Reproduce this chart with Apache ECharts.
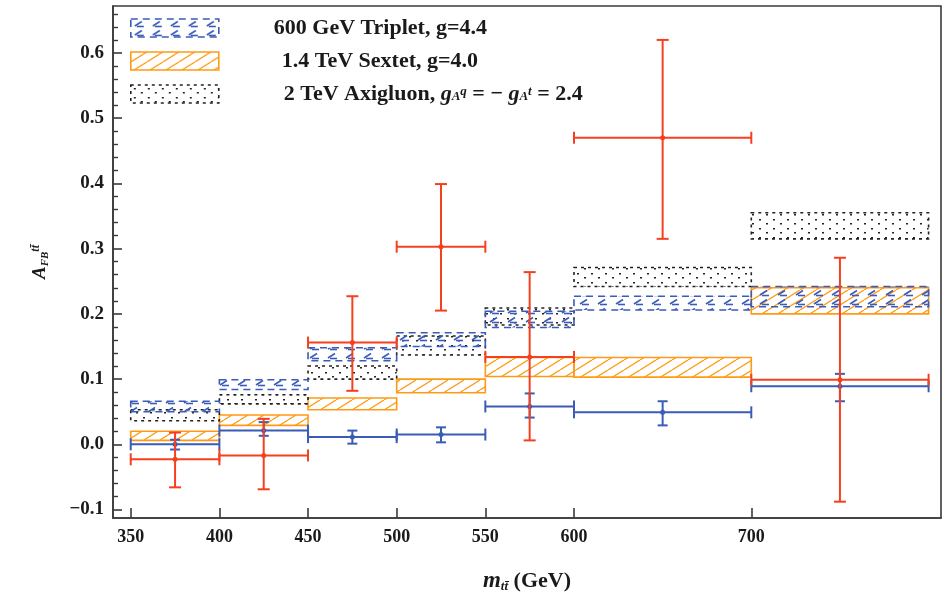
<!DOCTYPE html>
<html><head><meta charset="utf-8">
<script src="https://cdn.jsdelivr.net/npm/echarts@6/dist/echarts.min.js"></script>
<style>html,body{margin:0;padding:0;background:#fff}#c{width:943px;height:600px}</style>
</head><body><div id="c"></div>
<script>
// ---- data ----
const binEdges = [350, 400, 450, 500, 550, 600, 700, 800];
const tripletLo = [0.050, 0.084, 0.128, 0.150, 0.179, 0.206, 0.211];
const tripletHi = [0.066, 0.099, 0.148, 0.171, 0.204, 0.227, 0.242];
const sextetLo  = [0.006, 0.029, 0.053, 0.079, 0.104, 0.103, 0.200];
const sextetHi  = [0.020, 0.045, 0.071, 0.100, 0.133, 0.133, 0.240];
const axiLo     = [0.036, 0.062, 0.100, 0.137, 0.183, 0.242, 0.315];
const axiHi     = [0.053, 0.076, 0.120, 0.166, 0.209, 0.271, 0.355];
const dataX   = [375, 425, 475, 525, 575, 650, 750];
const dataY   = [-0.023, -0.017, 0.156, 0.303, 0.134, 0.470, 0.099];
const dataYLo = [-0.066, -0.069, 0.082, 0.205, 0.006, 0.315, -0.088];
const dataYHi = [0.018, 0.039, 0.227, 0.399, 0.264, 0.620, 0.286];
const smY   = [0.000, 0.021, 0.011, 0.015, 0.058, 0.049, 0.089];
const smYLo = [-0.008, 0.013, 0.001, 0.003, 0.041, 0.029, 0.066];
const smYHi = [0.007, 0.034, 0.021, 0.026, 0.078, 0.066, 0.108];
const xTicks = [350, 400, 450, 500, 550, 600, 700];
const yTicks = [-0.1, 0.0, 0.1, 0.2, 0.3, 0.4, 0.5, 0.6];
const yMinorTicks = [-0.08, -0.06, -0.04, -0.02, 0.02, 0.04, 0.06, 0.08, 0.12, 0.14, 0.16, 0.18,
  0.22, 0.24, 0.26, 0.28, 0.32, 0.34, 0.36, 0.38, 0.42, 0.44, 0.46, 0.48, 0.52, 0.54, 0.56, 0.58, 0.62, 0.64, 0.66];
const names = ['600 GeV Triplet, g=4.4', '1.4 TeV Sextet, g=4.0', '2 TeV Axigluon'];

// ---- styles ----
const BLUE = '#3a5cb8', ORANGE = '#ff9a16', RED = '#f5401f', BLACK = '#222';
function makePattern(kind, color) {
  const c = document.createElement('canvas');
  if (kind === 'hatch') { c.width = 16; c.height = 10; }
  else if (kind === 'dash') { c.width = 18; c.height = 9; }
  else { c.width = 14; c.height = 9; }
  const ctx = c.getContext('2d');
  ctx.strokeStyle = color; ctx.fillStyle = color;
  if (kind === 'hatch') {
    ctx.lineWidth = 1.3;
    for (const dx of [-16, 0, 16]) { ctx.beginPath(); ctx.moveTo(dx, 10); ctx.lineTo(dx + 16, 0); ctx.stroke(); }
  } else if (kind === 'dash') {
    ctx.lineWidth = 1.6;
    ctx.beginPath(); ctx.moveTo(4, 7); ctx.lineTo(11, 2.5); ctx.stroke();
    ctx.beginPath(); ctx.moveTo(6, 7.5); ctx.lineTo(13, 7.5); ctx.stroke();
  } else {
    ctx.fillRect(3, 3, 2, 1.5); ctx.fillRect(10, 7, 2, 1.5);
  }
  return { image: c, repeat: 'repeat' };
}
const patTrip = makePattern('dash', BLUE);
const patSext = makePattern('hatch', ORANGE);
const patAxi = makePattern('dots', BLACK);

function boxData(lo, hi) { return lo.map((v, i) => [binEdges[i], binEdges[i + 1], v, hi[i]]); }
function boxRender(fill, stroke, dash) {
  return function (params, api) {
    const p0 = api.coord([api.value(0), api.value(3)]);
    const p1 = api.coord([api.value(1), api.value(2)]);
    return { type: 'rect', shape: { x: p0[0], y: p0[1], width: p1[0] - p0[0], height: p1[1] - p0[1] },
      style: { fill: fill, stroke: stroke, lineWidth: 1.6, lineDash: dash } };
  };
}
function errData(y, lo, hi) { return dataX.map((x, i) => [x, y[i], binEdges[i], binEdges[i + 1], lo[i], hi[i]]); }
function errRender(color, capX, capY) {
  return function (params, api) {
    const c = api.coord([api.value(0), api.value(1)]);
    const l = api.coord([api.value(2), api.value(1)]);
    const r = api.coord([api.value(3), api.value(1)]);
    const b = api.coord([api.value(0), api.value(4)]);
    const t = api.coord([api.value(0), api.value(5)]);
    const st = { stroke: color, lineWidth: 2 };
    const L = (x1, y1, x2, y2) => ({ type: 'line', shape: { x1, y1, x2, y2 }, style: st });
    return { type: 'group', children: [
      L(l[0], c[1], r[0], c[1]), L(l[0], c[1] - capX, l[0], c[1] + capX), L(r[0], c[1] - capX, r[0], c[1] + capX),
      L(c[0], t[1], c[0], b[1]), L(c[0] - capY, t[1], c[0] + capY, t[1]), L(c[0] - capY, b[1], c[0] + capY, b[1]),
      { type: 'circle', shape: { cx: c[0], cy: c[1], r: 2.5 }, style: { fill: color } }
    ] };
  };
}

const FONT = 'Liberation Serif';
const TXT = '#1a1a1a';
const chart = echarts.init(document.getElementById('c'), null, { renderer: 'canvas' });
chart.setOption({
  animation: false,
  backgroundColor: '#fff',
  grid: { left: 113, right: 2, top: 6, bottom: 82, show: true, borderColor: '#3a3a3a', borderWidth: 1.6, containLabel: false },
  legend: {
    orient: 'vertical', left: 130, top: 17, padding: 0, itemWidth: 88, itemHeight: 18, itemGap: 11,
    icon: 'rect', selectedMode: false,
    data: [
      { name: names[0], itemStyle: { color: patTrip, borderColor: BLUE, borderWidth: 1.6, borderType: [7, 5] }, textStyle: { padding: [0, 0, 0, 50] } },
      { name: names[1], itemStyle: { color: patSext, borderColor: ORANGE, borderWidth: 1.6 }, textStyle: { padding: [0, 0, 0, 58] } },
      { name: names[2], itemStyle: { color: patAxi, borderColor: BLACK, borderWidth: 1.6, borderType: [3, 4] }, textStyle: { padding: [0, 0, 0, 60] } }
    ],
    formatter: function (n) {
      if (n === names[2]) return '2 TeV Axigluon, {it|g}{sub|A}{sup|q} = − {it|g}{sub|A}{sup|t} = 2.4';
      return n;
    },
    textStyle: { fontFamily: FONT, fontSize: 22, fontWeight: 'bold', color: TXT, lineHeight: 18,
      rich: {
        it: { fontFamily: FONT, fontStyle: 'italic', fontWeight: 'bold', fontSize: 22, color: TXT, lineHeight: 18 },
        sub: { fontFamily: FONT, fontStyle: 'italic', fontWeight: 'bold', fontSize: 13, color: TXT, verticalAlign: 'bottom', padding: [10, 0, 0, 0] },
        sup: { fontFamily: FONT, fontStyle: 'italic', fontWeight: 'bold', fontSize: 13, color: TXT, verticalAlign: 'top', padding: [0, 0, 10, 0] }
      } }
  },
  xAxis: {
    type: 'value', min: 340, max: 807,
    axisLine: { show: true, onZero: false, lineStyle: { color: '#3a3a3a', width: 1.6 } },
    axisTick: { show: true, inside: true, length: 10, customValues: xTicks, lineStyle: { color: '#3a3a3a', width: 1.6 } },
    axisLabel: { customValues: xTicks, fontFamily: FONT, fontSize: 18, fontWeight: 'bold', color: TXT, margin: 10 },
    splitLine: { show: false },
    name: '{it|m}{sub|tt̄} (GeV)', nameLocation: 'middle', nameGap: 52,
    nameTextStyle: { fontFamily: FONT, fontSize: 22, fontWeight: 'bold', color: TXT,
      rich: { it: { fontFamily: FONT, fontStyle: 'italic', fontWeight: 'bold', fontSize: 23, color: TXT },
              sub: { fontFamily: FONT, fontStyle: 'italic', fontWeight: 'bold', fontSize: 13, color: TXT, verticalAlign: 'bottom', padding: [10, 0, 0, 0] } } }
  },
  yAxis: [{
    type: 'value', min: -0.113, max: 0.672,
    axisLine: { show: true, onZero: false, lineStyle: { color: '#3a3a3a', width: 1.6 } },
    axisTick: { show: true, inside: true, length: 9, customValues: yTicks, lineStyle: { color: '#3a3a3a', width: 1.6 } },
    axisLabel: { customValues: yTicks, fontFamily: FONT, fontSize: 19, fontWeight: 'bold', color: TXT, margin: 9,
      formatter: v => v.toFixed(1).replace('-', '−') },
    splitLine: { show: false },
    name: '{it|A}{sub|FB}{sup|tt̄}', nameLocation: 'middle', nameGap: 62, nameRotate: 90,
    nameTextStyle: { fontFamily: FONT, fontSize: 19, color: TXT,
      rich: { it: { fontFamily: FONT, fontStyle: 'italic', fontWeight: 'bold', fontSize: 19, color: TXT },
              sub: { fontFamily: FONT, fontStyle: 'italic', fontWeight: 'bold', fontSize: 11, color: TXT, verticalAlign: 'bottom', padding: [9, 0, 0, 0] },
              sup: { fontFamily: FONT, fontStyle: 'italic', fontWeight: 'bold', fontSize: 12, color: TXT, verticalAlign: 'top', padding: [0, 0, 9, 0] } } }
  }, {
    type: 'value', min: -0.113, max: 0.672, position: 'left',
    axisLine: { show: false },
    axisTick: { show: true, inside: true, length: 5, customValues: yMinorTicks, lineStyle: { color: '#3a3a3a', width: 1.4 } },
    axisLabel: { show: false }, splitLine: { show: false }
  }],
  series: [
    { type: 'custom', name: names[1], data: boxData(sextetLo, sextetHi), encode: { x: [0, 1], y: [2, 3] },
      renderItem: boxRender(patSext, ORANGE, null), z: 2 },
    { type: 'custom', name: names[2], data: boxData(axiLo, axiHi), encode: { x: [0, 1], y: [2, 3] },
      renderItem: boxRender(patAxi, BLACK, [3, 4]), z: 3 },
    { type: 'custom', name: names[0], data: boxData(tripletLo, tripletHi), encode: { x: [0, 1], y: [2, 3] },
      renderItem: boxRender(patTrip, BLUE, [7, 5]), z: 4 },
    { type: 'custom', name: 'SM', data: errData(smY, smYLo, smYHi), encode: { x: [2, 3], y: [4, 5] },
      renderItem: errRender(BLUE, 6, 5), z: 5 },
    { type: 'custom', name: 'Data', data: errData(dataY, dataYLo, dataYHi), encode: { x: [2, 3], y: [4, 5] },
      renderItem: errRender(RED, 6, 6), z: 6 }
  ]
});
</script></body></html>
